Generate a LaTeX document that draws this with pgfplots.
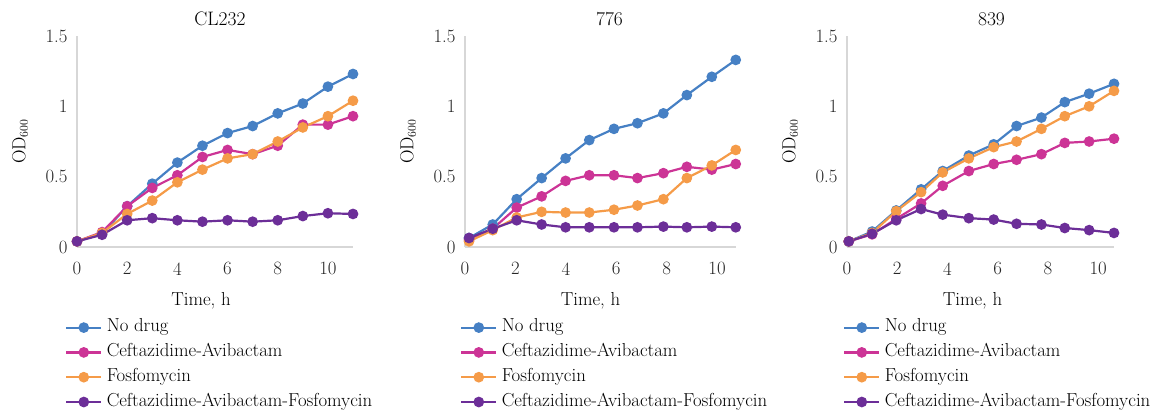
\documentclass[border=0pt]{standalone}
\usepackage{fontspec}
\usepackage{pgfplots}
\pgfplotsset{compat=1.18}
\definecolor{cblue}{RGB}{70,128,196}
\definecolor{cmag}{RGB}{204,52,150}
\definecolor{corange}{RGB}{245,155,72}
\definecolor{cpurple}{RGB}{108,46,152}
\definecolor{caxis}{RGB}{215,215,215}
\newcommand{\fs}{\fontsize{18.8}{21}\selectfont}
\pgfplotsset{
  panel/.style={
    scale only axis, height=211pt,
    ymin=0, ymax=1.5, xmin=0,
    axis x line*=bottom, axis y line*=left,
    axis line style={draw=caxis, line width=1.5pt},
    ytick={0,0.5,1,1.5}, xtick={0,2,4,6,8,10},
    major tick length=0pt,
    /pgf/number format/assume math mode=true,
    tick label style={font=\fs, text=black!85},
    yticklabel style={xshift=-6pt},
    xticklabel style={yshift=-12pt},
    clip=false,
    title style={at={(axis description cs:0.5,1)}, anchor=base, yshift=5pt, font=\fontsize{19.5}{21}\selectfont},
    xlabel={Time, h},
    xlabel style={at={(axis description cs:0.5,0)}, anchor=base, yshift=-58pt, font=\fs},
    ylabel={OD$_{600}$},
    ylabel style={at={(axis description cs:0,0.5)}, anchor=center, yshift=57pt, font=\fs},
    every axis plot/.append style={line width=2.2pt, mark=*, mark size=4.2pt},
    legend style={at={(axis description cs:0,0)}, anchor=north west, yshift=-68pt,
      draw=none, fill=none, font=\fs, inner sep=0pt, row sep=0pt,
      nodes={text height=12pt, text depth=4pt, inner sep=4.4pt}},
    legend cell align=left,
    legend image code/.code={\draw[mark repeat=2, mark phase=2, #1] plot coordinates {(0pt,0pt) (17.5pt,0pt) (35pt,0pt)};},
  }
}
\begin{document}
\begin{tikzpicture}
\useasboundingbox (0,0) rectangle (1153pt,410pt);
% Panel 1
\begin{axis}[panel, at={(77pt,163pt)}, anchor=south west, width=276pt, xmax=11,
  title={CL232}, title style={xshift=5pt}, xlabel style={xshift=-14pt},
  legend style={xshift=-12pt}]
\addplot[cblue] coordinates {(0,0.04)(1,0.094)(2,0.29)(3,0.45)(4,0.60)(5,0.72)(6,0.81)(7,0.86)(8,0.95)(9,1.02)(10,1.14)(11,1.23)};
\addlegendentry{No drug}
\addplot[cmag] coordinates {(0,0.04)(1,0.106)(2,0.29)(3,0.42)(4,0.51)(5,0.64)(6,0.69)(7,0.66)(8,0.72)(9,0.87)(10,0.87)(11,0.93)};
\addlegendentry{Ceftazidime-Avibactam}
\addplot[corange] coordinates {(0,0.04)(1,0.10)(2,0.235)(3,0.33)(4,0.46)(5,0.55)(6,0.63)(7,0.66)(8,0.75)(9,0.85)(10,0.93)(11,1.04)};
\addlegendentry{Fosfomycin}
\addplot[cpurple] coordinates {(0,0.04)(1,0.087)(2,0.19)(3,0.205)(4,0.19)(5,0.18)(6,0.19)(7,0.18)(8,0.19)(9,0.22)(10,0.24)(11,0.235)};
\addlegendentry{Ceftazidime-Avibactam-Fosfomycin}
\end{axis}
% Panel 2
\begin{axis}[panel, at={(465pt,163pt)}, anchor=south west, width=271pt, xmax=10.75,
  title={776}, title style={xshift=9pt}, xlabel style={xshift=-10pt},
  legend style={xshift=-5pt}]
\addplot[cblue] coordinates {(0.16,0.064)(1.1,0.16)(2.05,0.34)(3.04,0.49)(3.99,0.63)(4.93,0.76)(5.91,0.84)(6.84,0.88)(7.87,0.95)(8.8,1.08)(9.79,1.21)(10.74,1.33)};
\addlegendentry{No drug}
\addplot[cmag] coordinates {(0.16,0.05)(1.1,0.13)(2.05,0.28)(3.04,0.36)(3.99,0.47)(4.93,0.51)(5.91,0.51)(6.84,0.49)(7.87,0.525)(8.8,0.57)(9.79,0.55)(10.74,0.59)};
\addlegendentry{Ceftazidime-Avibactam}
\addplot[corange] coordinates {(0.16,0.04)(1.1,0.12)(2.05,0.21)(3.04,0.25)(3.99,0.245)(4.93,0.245)(5.91,0.265)(6.84,0.295)(7.87,0.34)(8.8,0.49)(9.79,0.58)(10.74,0.69)};
\addlegendentry{Fosfomycin}
\addplot[cpurple] coordinates {(0.16,0.064)(1.1,0.13)(2.05,0.19)(3.04,0.16)(3.99,0.14)(4.93,0.14)(5.91,0.14)(6.84,0.14)(7.87,0.145)(8.8,0.14)(9.79,0.145)(10.74,0.14)};
\addlegendentry{Ceftazidime-Avibactam-Fosfomycin}
\end{axis}
% Panel 3
\begin{axis}[panel, at={(847pt,163pt)}, anchor=south west, width=267pt, xmax=10.63,
  title={839}, title style={xshift=11pt}, xlabel style={xshift=-8pt},
  legend style={xshift=-4pt}]
\addplot[cblue] coordinates {(0.07,0.04)(1.0,0.11)(1.96,0.26)(2.95,0.41)(3.81,0.54)(4.85,0.65)(5.84,0.73)(6.75,0.86)(7.74,0.92)(8.67,1.03)(9.64,1.09)(10.63,1.16)};
\addlegendentry{No drug}
\addplot[cmag] coordinates {(0.07,0.04)(1.0,0.09)(1.96,0.2)(2.95,0.31)(3.81,0.435)(4.85,0.54)(5.84,0.59)(6.75,0.62)(7.74,0.66)(8.67,0.74)(9.64,0.75)(10.63,0.77)};
\addlegendentry{Ceftazidime-Avibactam}
\addplot[corange] coordinates {(0.07,0.04)(1.0,0.10)(1.96,0.255)(2.95,0.39)(3.81,0.53)(4.85,0.63)(5.84,0.71)(6.75,0.75)(7.74,0.84)(8.67,0.93)(9.64,1.0)(10.63,1.11)};
\addlegendentry{Fosfomycin}
\addplot[cpurple] coordinates {(0.07,0.04)(1.0,0.094)(1.96,0.19)(2.95,0.27)(3.81,0.23)(4.85,0.205)(5.84,0.195)(6.75,0.165)(7.74,0.16)(8.67,0.135)(9.64,0.12)(10.63,0.10)};
\addlegendentry{Ceftazidime-Avibactam-Fosfomycin}
\end{axis}
\end{tikzpicture}
\end{document}
